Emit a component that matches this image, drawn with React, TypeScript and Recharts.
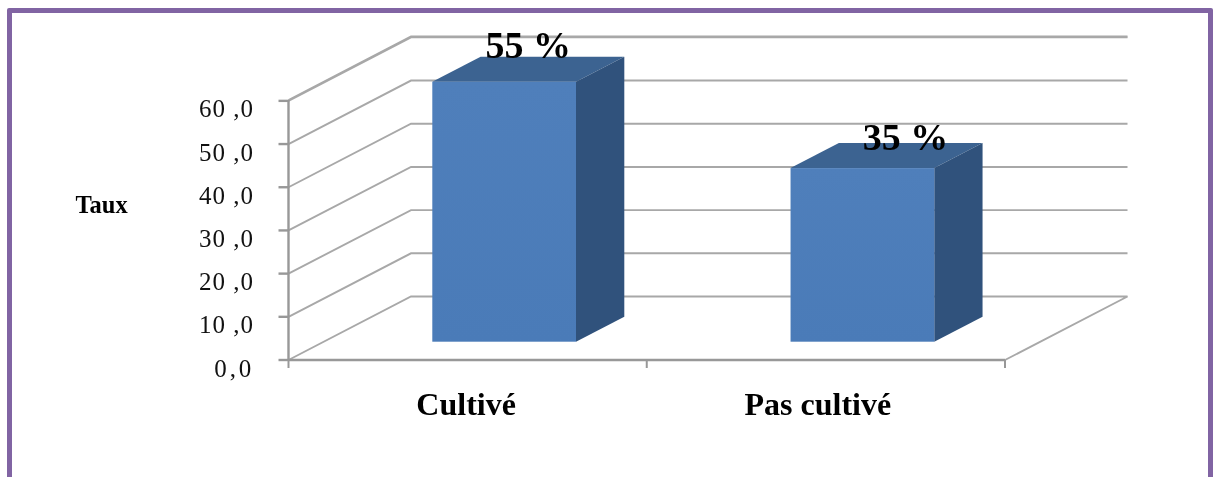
import React from "react";
import { BarChart, Bar, XAxis, YAxis, CartesianGrid } from "recharts";

const categories = ["Cultivé", "Pas cultivé"];
const barValues = [60.2, 40.2];
const barLabels = ["55 %", "35 %"];
const yTicks = [0, 10, 20, 30, 40, 50, 60];
const yTickLabels = ["0,0", "10 ,0", "20 ,0", "30 ,0", "40 ,0", "50 ,0", "60 ,0"];

const W = 1216;
const H = 477;
const PLOT_LEFT = 288.5;
const PLOT_RIGHT = 1005;
const PLOT_TOP = 100;
const PLOT_BOTTOM = 360;
const Y_AXIS_W = 100;
const X_AXIS_H = 60;
const BAND = (PLOT_RIGHT - PLOT_LEFT) / categories.length;

const WALL_DX = 122.5;
const WALL_DY = -63.5;
const BAR_DX = 36.8;
const BAR_DY = -18.3;
const BAR_DEPTH_X = 48.3;
const BAR_DEPTH_Y = -25;

const SERIF = "'Liberation Serif', serif";
const GRID = "#a8a8a8";
const AXIS = "#989898";

const labelShift = [
  { dx: 24, dy: -24 },
  { dx: 43, dy: -18.4 },
];
const catShift = [-1.5, -8];

const rows = categories.map((name, i) => ({
  name,
  value: barValues[i],
  label: barLabels[i],
}));

const WallLine = (p: any) => {
  const { x1, x2, y1 } = p;
  const bx = x1 + WALL_DX;
  const by = y1 + WALL_DY;
  const isFloor = Math.abs(y1 - PLOT_BOTTOM) < 0.5;
  return (
    <g key={`wall-${y1}`}>
      <polyline
        points={`${x1},${y1} ${bx},${by} ${x2 + WALL_DX},${by}${isFloor ? ` ${x2},${y1}` : ""}`}
        fill="none"
        stroke={GRID}
        strokeWidth={1.9}
      />
    </g>
  );
};

const Box3D = (p: any) => {
  const { x, y, width, height, index } = p;
  const l = x + BAR_DX;
  const r = l + width;
  const t = y + BAR_DY;
  const b = t + height;
  const dx = BAR_DEPTH_X;
  const dy = BAR_DEPTH_Y;
  return (
    <g>
      <polygon points={`${l},${t} ${l + dx},${t + dy} ${r + dx},${t + dy} ${r},${t}`} fill="#3c6391" />
      <polygon points={`${r},${t} ${r + dx},${t + dy} ${r + dx},${b + dy} ${r},${b}`} fill="#30527c" />
      <rect x={l} y={t} width={width} height={height} fill="url(#frontFace)" />
      <text
        x={l + width / 2 + labelShift[index].dx}
        y={t + labelShift[index].dy}
        textAnchor="middle"
        fontFamily={SERIF}
        fontWeight="bold"
        fontSize={38}
        fill="#000"
      >
        {barLabels[index]}
      </text>
    </g>
  );
};

const YTick = (p: any) => {
  const { y, payload, index } = p;
  const label = yTickLabels[yTicks.indexOf(payload.value)] ?? String(index);
  return (
    <text
      x={254}
      y={y + 16.5}
      textAnchor="end"
      fontFamily={SERIF}
      fontSize={25}
      letterSpacing={label.length < 4 ? 2.8 : 1}
      fill="#111"
    >
      {label}
    </text>
  );
};

const XTick = (p: any) => {
  const { x, index, payload } = p;
  const tick = (tx: number, k: string) => (
    <line key={k} x1={tx} x2={tx} y1={PLOT_BOTTOM} y2={PLOT_BOTTOM + 8} stroke={AXIS} strokeWidth={2} />
  );
  return (
    <g>
      {tick(x - BAND / 2, "a")}
      {index === categories.length - 1 ? tick(x + BAND / 2, "b") : null}
      <text
        x={x + catShift[index]}
        y={PLOT_BOTTOM + 55}
        textAnchor="middle"
        fontFamily={SERIF}
        fontWeight="bold"
        fontSize={32}
        fill="#000"
      >
        {payload.value}
      </text>
    </g>
  );
};

export default function App() {
  return (
    <div
      style={{
        position: "fixed",
        left: 0,
        top: 0,
        width: W,
        height: H,
        overflow: "hidden",
        background: "#fff",
      }}
    >
      <div
        style={{
          position: "absolute",
          left: 7,
          top: 8,
          width: 1196,
          height: 520,
          border: "5.5px solid #8164a3",
          borderRadius: 2,
          filter: "blur(0.3px)",
        }}
      />
      <div style={{ position: "absolute", left: 0, top: 0, filter: "blur(0.45px)" }}>
        <BarChart
          width={W}
          height={H}
          data={rows}
          barSize={143.7}
          margin={{
            left: PLOT_LEFT - Y_AXIS_W,
            right: W - PLOT_RIGHT,
            top: PLOT_TOP,
            bottom: H - PLOT_BOTTOM - X_AXIS_H,
          }}
        >
          <defs>
            <linearGradient id="frontFace" x1="0" y1="0" x2="0" y2="1">
              <stop offset="0" stopColor="#4f7fbb" />
              <stop offset="1" stopColor="#4a7bb8" />
            </linearGradient>
          </defs>
          <CartesianGrid vertical={false} horizontal={WallLine as any} />
          <XAxis
            dataKey="name"
            height={X_AXIS_H}
            tick={XTick as any}
            tickLine={false}
            axisLine={{ stroke: AXIS, strokeWidth: 2.4 }}
            interval={0}
          />
          <YAxis
            type="number"
            domain={[0, 60]}
            ticks={yTicks}
            width={Y_AXIS_W}
            tick={YTick as any}
            tickSize={10}
            tickLine={{ stroke: AXIS, strokeWidth: 2.4 }}
            axisLine={{ stroke: AXIS, strokeWidth: 2.4 }}
            interval={0}
            label={{
              value: "Taux",
              position: "insideLeft",
              offset: -113,
              dy: -26,
              style: { fontFamily: SERIF, fontWeight: "bold", fontSize: 24.5, fill: "#000" },
            }}
          />
          <Bar dataKey="value" shape={Box3D as any} isAnimationActive={false} />
        </BarChart>
      </div>
    </div>
  );
}
